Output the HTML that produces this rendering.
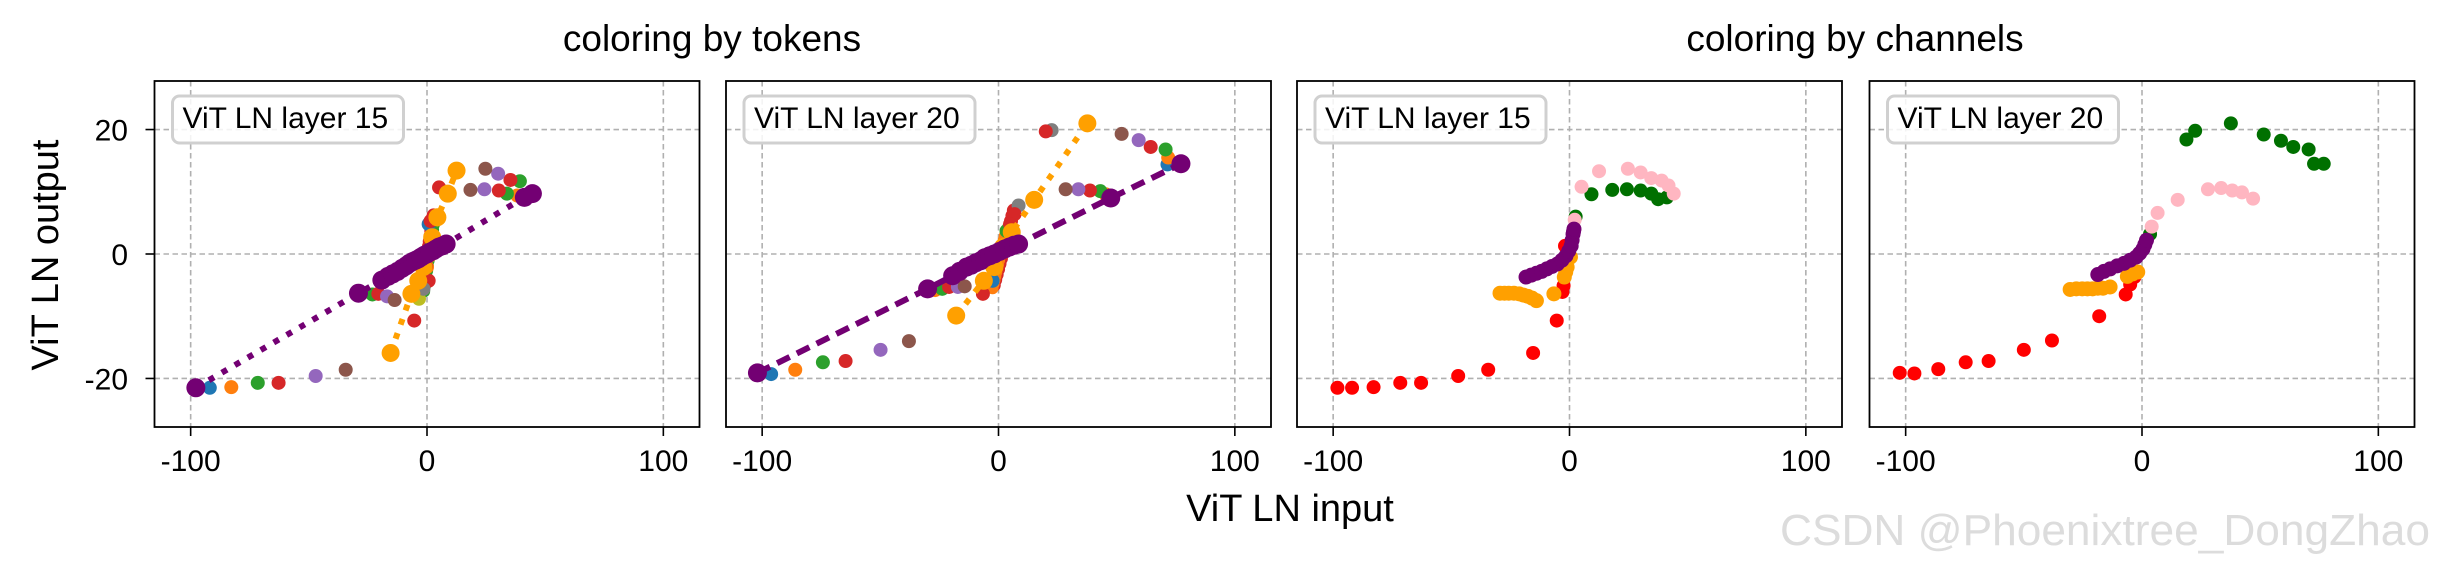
<!DOCTYPE html>
<html><head><meta charset="utf-8"><style>
html,body{margin:0;padding:0;background:#fff}
svg{display:block;font-family:"Liberation Sans",Arial,sans-serif}
</style></head><body>
<svg id="chart" width="2438" height="570" viewBox="0 0 2438 570" xmlns="http://www.w3.org/2000/svg">
<rect width="2438" height="570" fill="#fff"/>
<text x="712" y="51" font-size="37" text-anchor="middle">coloring by tokens</text>
<text x="1855" y="51" font-size="37" text-anchor="middle">coloring by channels</text>
<text transform="translate(58,255) rotate(-90)" font-size="38" text-anchor="middle">ViT LN output</text>
<text x="1290" y="521" font-size="38" text-anchor="middle">ViT LN input</text>
<text x="1780" y="545" font-size="44" fill="#dcdcdc" textLength="650" lengthAdjust="spacingAndGlyphs">CSDN @Phoenixtree_DongZhao</text>
<g id="panels"></g>
</svg>
<script>
// ---- data ----
const xTicks = [-100, 0, 100];
const yTicks = [-20, 0, 20];
const panelTitles = ["ViT LN layer 15", "ViT LN layer 20", "ViT LN layer 15", "ViT LN layer 20"];

// Panel 1: coloring by tokens, layer 15
const p1Blue_x = [-91.9, -1.5, 0.7];            const p1Blue_y = [-21.5, -4.8, 4.8];
const p1Orange_x = [-82.8, 38.2, 0];            const p1Orange_y = [-21.4, 9.4, -2.1];
const p1Green_x = [-71.6, -23.1, 39.3, 33.8, 4]; const p1Green_y = [-20.7, -6.5, 11.7, 9.7, 6.1];
const p1Red_x = [-62.8, -20.6, -5.4, 5.1, 30.4, 35.3, 1.5, 0.7, 2.5, -0.5];
const p1Red_y = [-20.7, -6.4, -10.7, 10.7, 10.2, 11.9, 5.3, -4.3, 3.0, -2.0];
const p1Purple_x = [-47.1, -16.9, 24.3, 30.1];  const p1Purple_y = [-19.6, -6.8, 10.4, 12.9];
const p1Brown_x = [-34.4, -13.7, 18.4, 24.7];   const p1Brown_y = [-18.6, -7.4, 10.3, 13.7];
const p1Olive_x = [-3.4];                        const p1Olive_y = [-7.2];
const p1Gray_x = [-1.5];                         const p1Gray_y = [-5.6];
const p1BigPurple_x = [-97.8, -29, -19.1, -16.5, -14.5, -12.5, -10.5, -8.8, -7.4, -6, -4.8, -3.7, -2.5, -1.2, 0, 1.2, 2.5, 3.7, 5, 6.5, 8.1, 41.2, 44.6];
const p1BigPurple_y = [-21.5, -6.3, -4.2, -3.6, -3.2, -2.8, -2.3, -1.9, -1.5, -1.2, -1.0, -0.8, -0.5, -0.2, 0, 0.3, 0.5, 0.8, 1.1, 1.3, 1.6, 9.1, 9.7];
const p1BigOrange_x = [-15.4, -6.6, -3.7, -1.5, 0.7, 2.2, 4.4, 8.8, 12.5];
const p1BigOrange_y = [-15.9, -6.4, -4.3, -2.1, 0, 2.7, 5.9, 9.7, 13.4];

// Panel 2: coloring by tokens, layer 20
const p2Blue_x = [-96.2, 71.5, -2.5];          const p2Blue_y = [-19.3, 14.4, -4.3];
const p2Orange_x = [-86, 71.8, 45.3, -26.8];    const p2Orange_y = [-18.6, 15.5, 9.6, -5.8];
const p2Green_x = [-74.3, 70.7, 43.1, -23.8, 3.4]; const p2Green_y = [-17.4, 16.8, 10.1, -5.6, 3.7];
const p2Red_x = [-64.7, 20, 64.4, 38.7, -20.9, -6.6, 6.8, 4.9];
const p2Red_y = [-17.2, 19.7, 17.2, 10.2, -5.3, -6.4, 6.4, 4.8];
const p2Purple_x = [-49.9, 59.3, 33.8, -17.2];  const p2Purple_y = [-15.4, 18.3, 10.4, -5.3];
const p2Brown_x = [-37.9, 52.1, 28.4, -14.3];   const p2Brown_y = [-14, 19.3, 10.4, -5.2];
const p2Gray_x = [22.5, 8.5];                   const p2Gray_y = [19.9, 7.8];
const p2BigPurple_x = [-102, -30, -19.4, -16.5, -13.5, -11.5, -9.5, -7.6, -5.8, -3.8, -1.8, 0.4, 2.6, 4.5, 6.5, 8.5, 47.5, 77.2];
const p2BigPurple_y = [-19.1, -5.6, -3.5, -2.8, -2.1, -1.8, -1.4, -1.1, -0.6, -0.3, 0, 0.4, 0.8, 1.1, 1.4, 1.6, 9, 14.5];
const p2BigOrange_x = [-17.9, -6.2, -1.8, 1.9, 5.6, 15.1, 37.6];
const p2BigOrange_y = [-9.9, -4.3, -2.1, 1.1, 3.5, 8.7, 21];

// Panel 3: coloring by channels, layer 15
const p3Red_x = [-98.2, -92, -82.9, -71.6, -62.8, -47.1, -34.4, -15.4, -5.4, -3.0, -2.5, -1.9];
const p3Red_y = [-21.5, -21.5, -21.4, -20.7, -20.7, -19.6, -18.6, -15.9, -10.7, -6.1, -5.1, 1.3];
const p3Orange_x = [-29.4, -27.5, -25.7, -23.5, -21.3, -19.5, -17.6, -15.8, -14, -6.6, -2.2, -1.6, -1.0, 0.4];
const p3Orange_y = [-6.3, -6.3, -6.3, -6.3, -6.4, -6.6, -6.8, -7.1, -7.5, -6.4, -3.7, -2.9, -2.1, -0.5];
const p3Green_x = [2.6, 9.3, 18.1, 24.3, 30.1, 34.6, 37.5, 41.2];
const p3Green_y = [6, 9.6, 10.3, 10.4, 10.2, 9.7, 8.8, 9.1];
const p3Pink_x = [2.2, 5.1, 12.5, 24.7, 30.1, 34.6, 39, 41.9, 44.1];
const p3Pink_y = [5.5, 10.8, 13.3, 13.7, 13.1, 12.2, 11.8, 11, 9.7];
const p3Purple_x = [-18.4, -16.2, -14, -11.8, -9.6, -7.4, -5.1, -3.2, -1.5, -0.3, 0.7, 1.1, 1.5, 1.7, 1.9];
const p3Purple_y = [-3.7, -3.4, -3.1, -2.8, -2.4, -2.0, -1.6, -1.0, -0.3, 0.5, 1.3, 2.2, 3.2, 3.6, 4.0];

// Panel 4: coloring by channels, layer 20
const p4Red_x = [-102.5, -96.3, -86.2, -74.6, -64.9, -50, -38.1, -18.1, -6.9, -5, -3.2];
const p4Red_y = [-19.1, -19.2, -18.5, -17.4, -17.2, -15.4, -13.9, -10, -6.5, -4.9, -3.7];
const p4Orange_x = [-30.4, -27.8, -25.3, -23.1, -20.9, -18.7, -16.5, -13.5, -6.2, -4, -1.8];
const p4Orange_y = [-5.7, -5.6, -5.6, -5.6, -5.6, -5.5, -5.5, -5.3, -3.6, -3.2, -2.9];
const p4Green_x = [3.4, 18.8, 22.5, 37.6, 51.5, 58.8, 64, 70.5, 72.8, 76.9];
const p4Green_y = [3.2, 18.4, 19.8, 21, 19.2, 18.2, 17.2, 16.8, 14.5, 14.5];
const p4Pink_x = [4.1, 6.6, 15.1, 27.9, 33.5, 38.2, 42.3, 47];
const p4Pink_y = [4.4, 6.6, 8.7, 10.4, 10.6, 10.2, 9.9, 8.9];
const p4Purple_x = [-18.7, -16.1, -13.5, -10.5, -7.6, -5, -2.5, -1, 0.4, 1.2, 1.9];
const p4Purple_y = [-3.3, -2.8, -2.4, -1.9, -1.5, -1.0, -0.5, 0.1, 0.8, 1.5, 2.2];

// ---- layout ----
const NS = "http://www.w3.org/2000/svg";
const panelLefts = [154.5, 726, 1297, 1869.5];
const PW = 545, PT = 81, PB = 427;
const XMIN = -115.3, XMAX = 115.3, YMIN = -27.8, YMAX = 27.8;
function mk(tag, attrs, parent) {
  const e = document.createElementNS(NS, tag);
  for (const k in attrs) e.setAttribute(k, attrs[k]);
  parent.appendChild(e);
  return e;
}
function xs(i, v) { return panelLefts[i] + (v - XMIN) / (XMAX - XMIN) * PW; }
function ys(v) { return PB - (v - YMIN) / (YMAX - YMIN) * (PB - PT); }

const root = document.getElementById("panels");

function drawPanel(i) {
  const g = mk("g", {}, root);
  
  
  const L = panelLefts[i];
  mk("rect", {x: L, y: PT, width: PW, height: PB - PT, fill: "#fff"}, g);
  const clip = mk("clipPath", {id: "clip" + i}, g);
  mk("rect", {x: L, y: PT, width: PW, height: PB - PT}, clip);
  xTicks.forEach(t => {
    const ln = mk("line", {x1: xs(i, t), x2: xs(i, t), y1: PT, y2: PB, stroke: "#b0b0b0", "stroke-width": 1.6, "stroke-dasharray": "5.5 3.5"}, g);
    
    
    mk("line", {x1: xs(i, t), x2: xs(i, t), y1: PB, y2: PB + 9, stroke: "#000", "stroke-width": 1.6}, g);
    const tx = mk("text", {x: xs(i, t), y: 471, "font-size": 30, "text-anchor": "middle"}, g);
    tx.textContent = String(t);
    
    
  });
  yTicks.forEach(t => {
    const ln = mk("line", {x1: L, x2: L + PW, y1: ys(t), y2: ys(t), stroke: "#b0b0b0", "stroke-width": 1.6, "stroke-dasharray": "5.5 3.5"}, g);
    
    
    if (i === 0) {
      mk("line", {x1: L - 9, x2: L, y1: ys(t), y2: ys(t), stroke: "#000", "stroke-width": 1.6}, g);
      const tx = mk("text", {x: 128, y: ys(t) + 11, "font-size": 30, "text-anchor": "end"}, g);
      tx.textContent = String(t);
      
      
    }
  });
  const data = mk("g", {"clip-path": "url(#clip" + i + ")"}, g);
  return {g, data};
}

function scatter(panel, i, xsArr, ysArr, color, r, name) {
  for (let k = 0; k < xsArr.length; k++) {
    const c = mk("circle", {cx: xs(i, xsArr[k]), cy: ys(ysArr[k]), r: r, fill: color}, panel.data);
    
    
  }
}
function line(panel, i, xsArr, ysArr, color, dash, name) {
  const pts = xsArr.map((x, k) => xs(i, x).toFixed(1) + "," + ys(ysArr[k]).toFixed(1)).join(" ");
  const p = mk("polyline", {points: pts, fill: "none", stroke: color, "stroke-width": 6, "stroke-dasharray": dash}, panel.data);
  
  
}
function dense(panel, i, x0, y0, x1, y1, color, r, name) {
  const n = 14;
  for (let k = 0; k <= n; k++) {
    const c = mk("circle", {cx: xs(i, x0 + (x1 - x0) * k / n), cy: ys(y0 + (y1 - y0) * k / n), r: r, fill: color}, panel.data);
    
    
  }
}
function frame(panel, i) {
  const L = panelLefts[i];
  mk("rect", {x: L, y: PT, width: PW, height: PB - PT, fill: "none", stroke: "#000", "stroke-width": 1.8}, panel.g);
  const bx = mk("rect", {x: L + 18, y: PT + 15, width: 231, height: 47, rx: 7, fill: "#fff", "fill-opacity": 0.85, stroke: "#d0d0d0", "stroke-width": 3}, panel.g);
  
  
  const t = mk("text", {x: L + 28, y: PT + 47, "font-size": 30}, panel.g);
  t.textContent = panelTitles[i];
  
  
}

const C = {blue:"#1f77b4", orange:"#ff7f0e", green:"#2ca02c", red:"#d62728", purple:"#9467bd", brown:"#8c564b", gray:"#7f7f7f", olive:"#bcbd22", bigP:"#730073", bigO:"#ffa000"};

// Panel 1
let P = drawPanel(0);
dense(P, 0, -1.8, -5.5, 2.8, 6.2, C.red, 7, "token-center-stack");
dense(P, 0, -1.2, -6, 3.2, 5.5, C.green, 6, "token-center-stack");
scatter(P, 0, p1Blue_x, p1Blue_y, C.blue, 7, "token-blue-point");
scatter(P, 0, p1Orange_x, p1Orange_y, C.orange, 7, "token-orange-point");
scatter(P, 0, p1Green_x, p1Green_y, C.green, 7, "token-green-point");
scatter(P, 0, p1Red_x, p1Red_y, C.red, 7, "token-red-point");
scatter(P, 0, p1Purple_x, p1Purple_y, C.purple, 7, "token-purple-point");
scatter(P, 0, p1Brown_x, p1Brown_y, C.brown, 7, "token-brown-point");
scatter(P, 0, p1Olive_x, p1Olive_y, C.olive, 7, "token-olive-point");
scatter(P, 0, p1Gray_x, p1Gray_y, C.gray, 7, "token-gray-point");
line(P, 0, p1BigOrange_x, p1BigOrange_y, C.bigO, "6 9", "big-orange-line");
scatter(P, 0, p1BigOrange_x, p1BigOrange_y, C.bigO, 9, "big-orange-point");
line(P, 0, p1BigPurple_x, p1BigPurple_y, C.bigP, "6 9", "big-purple-line");
scatter(P, 0, p1BigPurple_x, p1BigPurple_y, C.bigP, 9.5, "big-purple-point");
frame(P, 0);

// Panel 2
P = drawPanel(1);
dense(P, 1, -2, -5, 6.5, 7, C.red, 7, "token-center-stack");
dense(P, 1, -2.5, -5.5, 3, 3.5, C.orange, 6, "token-center-stack");
scatter(P, 1, p2Blue_x, p2Blue_y, C.blue, 7, "token-blue-point");
scatter(P, 1, p2Orange_x, p2Orange_y, C.orange, 7, "token-orange-point");
scatter(P, 1, p2Green_x, p2Green_y, C.green, 7, "token-green-point");
scatter(P, 1, p2Gray_x, p2Gray_y, C.gray, 7, "token-gray-point");
scatter(P, 1, p2Red_x, p2Red_y, C.red, 7, "token-red-point");
scatter(P, 1, p2Purple_x, p2Purple_y, C.purple, 7, "token-purple-point");
scatter(P, 1, p2Brown_x, p2Brown_y, C.brown, 7, "token-brown-point");
line(P, 1, p2BigOrange_x, p2BigOrange_y, C.bigO, "6 9", "big-orange-line");
scatter(P, 1, p2BigOrange_x, p2BigOrange_y, C.bigO, 9, "big-orange-point");
line(P, 1, p2BigPurple_x, p2BigPurple_y, C.bigP, "14 8", "big-purple-line");
scatter(P, 1, p2BigPurple_x, p2BigPurple_y, C.bigP, 9.5, "big-purple-point");
frame(P, 1);

// Panel 3
P = drawPanel(2);
scatter(P, 2, p3Red_x, p3Red_y, "#ff0000", 7, "channel-red-point");
scatter(P, 2, p3Orange_x, p3Orange_y, "#ffa000", 7.5, "channel-orange-point");
scatter(P, 2, p3Green_x, p3Green_y, "#007000", 7, "channel-green-point");
scatter(P, 2, p3Pink_x, p3Pink_y, "#ffb6c1", 7, "channel-pink-point");
scatter(P, 2, p3Purple_x, p3Purple_y, "#730073", 7.5, "channel-purple-point");
frame(P, 2);

// Panel 4
P = drawPanel(3);
scatter(P, 3, p4Red_x, p4Red_y, "#ff0000", 7, "channel-red-point");
scatter(P, 3, p4Orange_x, p4Orange_y, "#ffa000", 7.5, "channel-orange-point");
scatter(P, 3, p4Green_x, p4Green_y, "#007000", 7, "channel-green-point");
scatter(P, 3, p4Pink_x, p4Pink_y, "#ffb6c1", 7, "channel-pink-point");
scatter(P, 3, p4Purple_x, p4Purple_y, "#730073", 7.5, "channel-purple-point");
frame(P, 3);
</script>
</body></html>
